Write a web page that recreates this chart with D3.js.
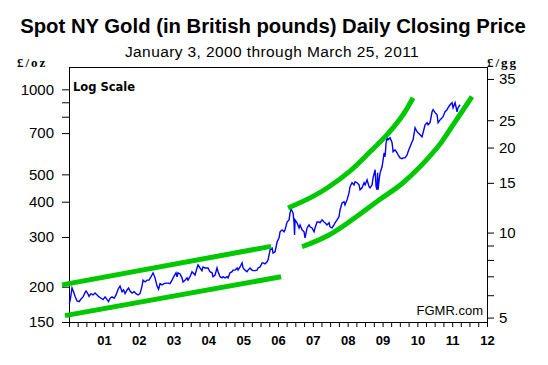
<!DOCTYPE html>
<html>
<head>
<meta charset="utf-8">
<script src="https://cdn.jsdelivr.net/npm/d3@7"></script>
<style>
  html, body { margin: 0; padding: 0; background: #fff; }
  svg { display: block; }
  text { font-family: "Liberation Sans", Arial, sans-serif; fill: #000; }
</style>
</head>
<body>
<svg id="chart" width="548" height="365"></svg>
<script>
// ---------- DATA ----------
const titleText = "Spot NY Gold (in British pounds) Daily Closing Price";
const subtitleText = "January 3, 2000 through March 25, 2011";

// Gold closing price, £/oz (decimal years)
const goldYears = [
  2000.01,2000.043,2000.086,2000.129,2000.172,2000.230,2000.287,2000.345,2000.402,2000.445,
  2000.488,2000.531,2000.574,2000.632,2000.689,2000.746,2000.804,2000.861,2000.919,2000.976,
  2001.034,2001.091,2001.134,2001.177,2001.235,2001.292,2001.349,2001.407,2001.464,2001.522,
  2001.565,2001.608,2001.665,2001.708,2001.751,2001.809,2001.866,2001.924,2001.981,2002.038,
  2002.096,2002.125,2002.182,2002.239,2002.297,2002.354,2002.412,2002.469,2002.526,2002.570,
  2002.613,2002.670,2002.727,2002.785,2002.842,2002.900,2002.957,2003.015,2003.072,
  2003.101,2003.129,2003.187,2003.244,2003.273,2003.330,2003.388,2003.416,2003.474,2003.531,
  2003.560,2003.617,2003.675,2003.704,2003.761,2003.818,2003.847,2003.905,2003.962,2003.991,
  2004.048,2004.106,2004.134,2004.192,2004.249,2004.278,2004.335,2004.393,2004.421,2004.479,
  2004.536,2004.565,2004.622,2004.680,2004.708,2004.766,2004.823,2004.852,2004.909,2004.967,
  2004.996,2005.053,2005.110,2005.139,2005.197,2005.254,2005.283,2005.340,2005.397,2005.426,
  2005.484,2005.541,2005.570,2005.627,2005.685,2005.713,2005.771,2005.828,2005.857,2005.914,
  2005.972,2006.029,2006.058,2006.115,2006.173,2006.201,2006.259,2006.316,2006.345,2006.374,
  2006.431,2006.460,2006.474,2006.488,2006.546,2006.603,2006.632,2006.689,2006.747,2006.776,
  2006.833,2006.890,2006.919,2006.976,2007.034,2007.063,2007.120,2007.178,2007.206,2007.264,
  2007.321,2007.350,2007.407,2007.465,2007.493,2007.551,2007.608,2007.637,2007.694,2007.752,
  2007.781,2007.838,2007.895,2007.924,2007.981,2008.039,2008.068,2008.125,2008.182,2008.211,
  2008.269,2008.326,2008.355,2008.412,2008.470,2008.499,2008.556,2008.613,
  2008.642,2008.700,2008.728,2008.786,2008.814,2008.843,2008.857,2008.872,2008.900,2008.929,
  2008.986,2009.015,2009.044,2009.072,2009.101,2009.130,2009.158,2009.216,2009.273,2009.302,
  2009.359,2009.417,2009.446,2009.503,2009.560,2009.589,2009.646,2009.704,2009.733,2009.790,
  2009.848,2009.876,2009.934,2009.991,2010.020,2010.077,2010.134,2010.163,2010.221,2010.278,
  2010.307,2010.364,2010.422,2010.451,2010.508,2010.566,2010.594,2010.652,2010.709,2010.738,
  2010.795,2010.853,2010.882,2010.939,2010.996,2011.025,2011.083,2011.140,2011.168,2011.226
];
const goldGBP = [
  174,182,198,192,185,178,177,181,184,189,
  193,190,185,189,187,190,187,184,182,180,
  184,180,177,182,184,182,187,196,201,192,
  195,189,195,198,193,190,192,189,187,189,
  201,211,208,211,211,217,224,215,201,196,
  205,203,205,206,206,205,211,218,224,
  217,224,222,215,208,211,215,211,217,226,
  224,220,233,239,233,228,235,233,233,233,
  226,224,217,220,233,226,217,215,217,215,
  217,215,224,226,229,229,233,229,235,243,
  233,229,226,229,233,229,228,228,229,233,
  235,243,243,241,245,249,270,274,263,266,
  288,298,313,318,313,318,339,345,365,377,
  365,337,305,345,337,323,331,318,313,298,
  323,331,326,323,313,323,339,339,337,345,
  339,337,331,337,326,323,331,337,345,354,
  374,396,400,390,406,430,452,467,459,471,
  467,459,441,448,467,459,478,452,
  448,459,486,519,452,441,506,441,478,506,
  532,563,596,577,647,674,663,674,647,601,
  611,596,586,572,568,572,572,586,601,626,
  652,663,731,708,702,691,679,702,749,762,
  749,762,833,847,827,813,762,780,793,800,
  833,847,861,882,897,861,897,833,861,882
];

// Trend channel lines (green)
const upperEarlyYears = [1999.799, 2005.80];
const upperEarlyGBP   = [203, 278];
const lowerEarlyYears = [1999.885, 2006.087];
const lowerEarlyGBP   = [158, 217];
const upperLateYears  = [2006.288, 2006.977, 2007.465, 2008.039, 2008.642, 2009.130, 2009.589, 2009.876];
const upperLateGBP    = [380, 416, 452, 510, 601, 691, 813, 934];
const lowerLateYears  = [2006.689, 2007.465, 2008.211, 2008.900, 2009.589, 2010.566, 2011.025, 2011.57];
const lowerLateGBP    = [277, 305, 351, 406, 467, 621, 749, 942];

// Axis ticks
const leftTickLabels  = [150, 200, 300, 400, 500, 700, 1000];
const leftMinorTicks  = [800, 900];
const rightTickLabels = [5, 10, 15, 20, 25, 35];
const rightMinorTicks = [6, 7, 8, 9];
const yearLabels = [2001,2002,2003,2004,2005,2006,2007,2008,2009,2010,2011,2012];
const GRAMS_PER_OZ = 31.1035;

// ---------- HELPERS ----------
function yearToDate(t) {
  const y0 = Math.floor(t);
  const s = new Date(y0, 0, 1), e = new Date(y0 + 1, 0, 1);
  return new Date(+s + (t - y0) * (e - s));
}
function zipSeries(ys, vs) { return ys.map((y, i) => ({ date: yearToDate(y), value: vs[i] })); }

// ---------- LAYOUT ----------
const svg = d3.select("#chart");
const L = 69, R = 487, T = 67, B = 322;

const x = d3.scaleTime().domain([new Date(2000, 0, 1), new Date(2012, 0, 1)]).range([L, R]);
const y = d3.scaleLog().domain([150, 1200]).range([B, T]);
const yR = d3.scaleLog().domain([150 / GRAMS_PER_OZ, 1200 / GRAMS_PER_OZ]).range([B, T]);

svg.append("rect").attr("width", 548).attr("height", 365).attr("fill", "#fff");

// Titles
svg.append("text").attr("x", 273).attr("y", 33).attr("text-anchor", "middle")
  .style("font-size", "20.3px").style("font-weight", "bold").text(titleText);
svg.append("text").attr("x", 272).attr("y", 57).attr("text-anchor", "middle")
  .style("font-size", "15.5px").style("letter-spacing", "0.4px").text(subtitleText);
svg.append("text").attr("x", 17).attr("y", 67)
  .style("font-family", "'Liberation Serif', serif").style("font-size", "13px")
  .style("font-weight", "bold").style("letter-spacing", "2px").text("£/oz");
svg.append("text").attr("x", 487).attr("y", 67)
  .style("font-family", "'Liberation Serif', serif").style("font-size", "13px")
  .style("font-weight", "bold").style("letter-spacing", "2px").text("£/gg");

// Left axis (labels + minor)
const leftAxis = svg.append("g").attr("transform", `translate(${L},0)`)
  .call(d3.axisLeft(y).tickValues(leftTickLabels).tickSize(7).tickPadding(8).tickFormat(d3.format("d")));
leftAxis.append("g").call(d3.axisLeft(y).tickValues(leftMinorTicks).tickSize(7).tickFormat(""));
leftAxis.selectAll(".domain").remove();
leftAxis.selectAll("text").style("font-size", "15px").style("font-family", "'Liberation Sans', Arial, sans-serif");

// Right axis (£ per goldgram)
const rightAxis = svg.append("g").attr("transform", `translate(${R},0)`)
  .call(d3.axisRight(yR).tickValues(rightTickLabels).tickSize(7).tickPadding(5).tickFormat(d3.format("d")));
rightAxis.append("g").call(d3.axisRight(yR).tickValues(rightMinorTicks).tickSize(7).tickFormat(""));
rightAxis.selectAll(".domain").remove();
rightAxis.selectAll("text").style("font-size", "15px").style("font-family", "'Liberation Sans', Arial, sans-serif");

// Bottom axis: quarterly ticks
const bottomTicks = svg.append("g").attr("transform", `translate(0,${B})`)
  .call(d3.axisBottom(x).ticks(d3.timeMonth.every(3)).tickSize(5).tickFormat(""));
bottomTicks.selectAll(".domain").remove();
const bottomLabels = svg.append("g").attr("transform", `translate(0,${B})`)
  .call(d3.axisBottom(x).tickValues(yearLabels.map(v => new Date(v, 0, 1)))
    .tickSize(0).tickPadding(14).tickFormat(d3.timeFormat("%y")));
bottomLabels.selectAll(".domain").remove();
bottomLabels.selectAll("text").style("font-size", "13px").style("font-weight", "bold")
  .style("font-family", "'Liberation Sans', Arial, sans-serif");

// Frame
svg.append("rect").attr("x", L + 0.5).attr("y", T + 0.5).attr("width", R - L).attr("height", B - T)
  .attr("fill", "none").attr("stroke", "#000").attr("stroke-width", 1);

// Gold price line
const line = d3.line().x(d => x(d.date)).y(d => y(d.value));
svg.append("path").datum(zipSeries(goldYears, goldGBP))
  .attr("d", line).attr("fill", "none").attr("stroke", "#0000ff").attr("stroke-width", 1.4)
  .attr("stroke-linejoin", "miter");

// Green channel lines
const curve = d3.line().x(d => x(d.date)).y(d => y(d.value)).curve(d3.curveCatmullRom);
[[upperEarlyYears, upperEarlyGBP], [lowerEarlyYears, lowerEarlyGBP],
 [upperLateYears, upperLateGBP], [lowerLateYears, lowerLateGBP]].forEach(([ys, vs]) => {
  svg.append("path").datum(zipSeries(ys, vs)).attr("d", curve)
    .attr("fill", "none").attr("stroke", "#00c800").attr("stroke-width", 5);
});

// Annotations
svg.append("text").attr("x", 73).attr("y", 91)
  .style("font-family", "'DejaVu Sans', Verdana, sans-serif").style("font-size", "11.5px")
  .style("font-weight", "bold").text("Log Scale");
svg.append("text").attr("x", 483).attr("y", 315).attr("text-anchor", "end")
  .style("font-size", "13px").text("FGMR.com");
</script>
</body>
</html>
